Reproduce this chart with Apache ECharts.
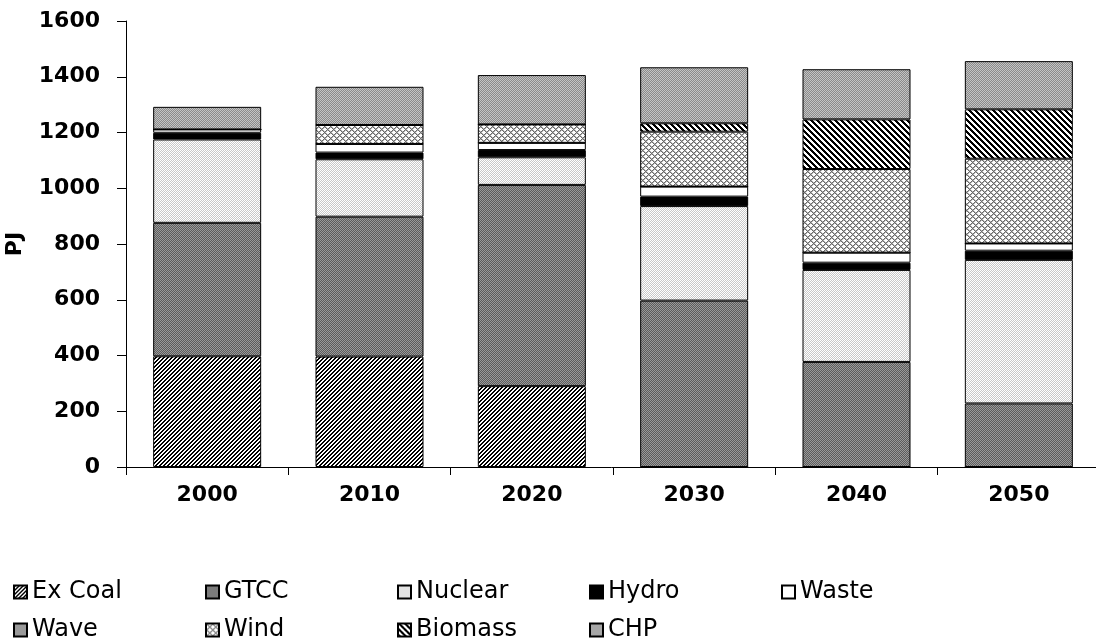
<!DOCTYPE html>
<html>
<head>
<meta charset="utf-8">
<script src="https://cdn.jsdelivr.net/npm/echarts@6/dist/echarts.min.js"></script>
<style>
  html, body { margin: 0; padding: 0; background: #fff; }
  #main { width: 1096px; height: 643px; }
</style>
</head>
<body>
<div id="main"></div>
<script>
// data (PJ)
var years = ['2000', '2010', '2020', '2030', '2040', '2050'];
var exCoal  = [397, 396, 290, 0, 0, 0];
var gtcc    = [479, 502, 722, 597, 377, 228];
var nuclear = [299, 206, 99, 339, 330, 515];
var hydro   = [24, 24, 26, 34, 26, 33];
var waste   = [12, 31, 26, 36, 36, 26];
var wave    = [0, 0, 0, 0, 0, 0];
var wind    = [0, 68, 66, 197, 300, 304];
var biomass = [0, 0, 0, 30, 178, 177];
var chp     = [81, 137, 177, 201, 180, 173];
var yTicks  = [0, 1600, 200];
var legendRows = [
    ['Ex Coal', 'GTCC', 'Nuclear', 'Hydro', 'Waste'],
    ['Wave', 'Wind', 'Biomass', 'CHP']
];

// small pixel patterns, like the old excel fills
function pixels(w, h, colorAt) {
    var c = document.createElement('canvas');
    c.width = w; c.height = h;
    var ctx = c.getContext('2d');
    for (var y = 0; y < h; y++) {
        for (var x = 0; x < w; x++) {
            ctx.fillStyle = colorAt(x, y);
            ctx.fillRect(x, y, 1, 1);
        }
    }
    return { image: c, repeat: 'repeat' };
}

var fills = {
    exCoal: pixels(4, 4, function (x, y) { return (x + y) % 4 < 2 ? '#000' : '#fff'; }),
    gtcc: pixels(2, 2, function (x, y) { return (x + y) % 2 ? '#5c5c5c' : '#9a9a9a'; }),
    nuclear: pixels(2, 2, function (x, y) { return (x + y) % 2 ? '#c8c8c8' : '#fff'; }),
    hydro: '#000',
    waste: '#fff',
    wave: '#999999',
    wind: pixels(6, 6, function (x, y) {
        var a = (x + y) % 6, b = (x - y + 12) % 6;
        if (a === 0 || b === 0) return '#6a6a6a';
        if (a === 1 || b === 1) return '#b4b4b4';
        return '#fff';
    }),
    biomass: pixels(6, 6, function (x, y) { return ((x - y + 12) % 6) < 3 ? '#000' : '#fff'; }),
    chp: pixels(2, 2, function (x, y) { return (x + y) % 2 ? '#8a8a8a' : '#c4c4c4'; })
};

function bar(name, data, fill) {
    return {
        name: name,
        type: 'bar',
        stack: 'total',
        barWidth: 108,
        data: data,
        itemStyle: { color: fill, borderColor: '#000', borderWidth: 1 }
    };
}

// one legend per item so the columns sit on a fixed grid
var legends = [];
legendRows.forEach(function (row, r) {
    row.forEach(function (name, i) {
        legends.push({
            data: [name],
            left: 8 + i * 192,
            top: 575 + r * 38,
            icon: 'rect',
            itemWidth: 13,
            itemHeight: 13,
            textStyle: { color: '#000', fontSize: 24, fontFamily: 'DejaVu Sans' }
        });
    });
});

var myChart = echarts.init(document.getElementById('main'));
var option = {
    backgroundColor: '#fff',
    animation: false,
    grid: { left: 126, top: 21, bottom: 176, width: 974, containLabel: false, outerBoundsMode: 'none' },
    xAxis: {
        type: 'category',
        data: years,
        axisLine: { lineStyle: { color: '#000', width: 1 } },
        axisTick: { show: true, length: 8, lineStyle: { color: '#000' } },
        axisLabel: {
            margin: 17,
            color: '#000',
            fontSize: 22,
            fontWeight: 'bold',
            fontFamily: 'DejaVu Sans'
        }
    },
    yAxis: {
        type: 'value',
        min: yTicks[0],
        max: yTicks[1],
        interval: yTicks[2],
        name: 'PJ',
        nameLocation: 'middle',
        nameGap: 100,
        nameRotate: 90,
        nameTextStyle: { color: '#000', fontSize: 22, fontWeight: 'bold', fontFamily: 'DejaVu Sans' },
        splitLine: { show: false },
        axisLine: { show: true, lineStyle: { color: '#000', width: 1 } },
        axisTick: { show: true, length: 9, lineStyle: { color: '#000' } },
        axisLabel: {
            margin: 26,
            color: '#000',
            fontSize: 22,
            fontWeight: 'bold',
            fontFamily: 'DejaVu Sans',
            formatter: function (v) { return String(v); }
        }
    },
    legend: legends,
    series: [
        bar('Ex Coal', exCoal, fills.exCoal),
        bar('GTCC', gtcc, fills.gtcc),
        bar('Nuclear', nuclear, fills.nuclear),
        bar('Hydro', hydro, fills.hydro),
        bar('Waste', waste, fills.waste),
        bar('Wave', wave, fills.wave),
        bar('Wind', wind, fills.wind),
        bar('Biomass', biomass, fills.biomass),
        bar('CHP', chp, fills.chp)
    ]
};
myChart.setOption(option);
</script>
</body>
</html>
